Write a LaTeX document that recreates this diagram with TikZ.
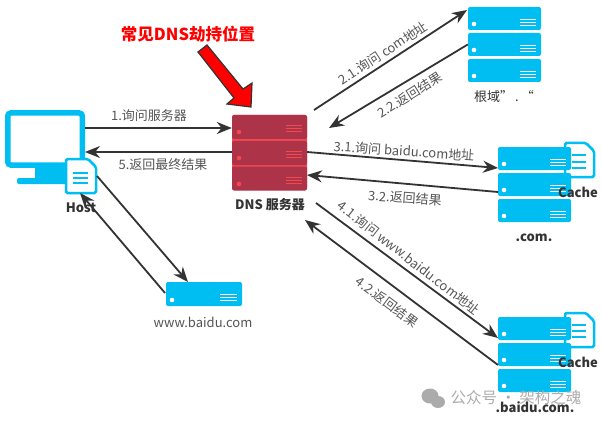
\documentclass[tikz,border=0pt]{standalone}
\usepackage{fontspec}
\usepackage{xcolor}
\usetikzlibrary{arrows.meta}
\setmainfont{Noto Sans CJK SC}
\definecolor{rackblue}{HTML}{00BEF2}
\definecolor{rackred}{HTML}{AD3448}
\definecolor{rackglow}{HTML}{F2484F}
\definecolor{linkgray}{HTML}{333333}
\definecolor{notegray}{HTML}{555555}
\definecolor{markgray}{HTML}{ABABAB}

\begin{document}
\begin{tikzpicture}[x=1pt,y=-1pt,
  flow/.style={draw=linkgray,line width=1.8pt,-{Stealth[length=15pt,width=12pt]}},
  note/.style={text=notegray,inner sep=0pt,font=\fontsize{13}{15}\selectfont},
  tag/.style={text=linkgray,inner sep=0pt,font=\fontsize{13}{15}\selectfont\bfseries},
  rack/.style={fill=rackblue,rounded corners=2pt,inner sep=0pt,minimum width=73pt,minimum height=23pt},
  redrack/.style={fill=rackred,rounded corners=2pt,inner sep=0pt,minimum width=75pt,minimum height=24pt},
  rackline/.style={draw=white,line width=0.9pt},
  sheet/.style={draw=rackblue,fill=white,line width=2.5pt,rounded corners=1.5pt},
  sheetline/.style={draw=rackblue,line width=2.5pt}]
\useasboundingbox (0,0) rectangle (601,422);
\fill[rackblue] (35,166) rectangle (65,179);
\fill[rackblue,rounded corners=2pt] (17,178) rectangle (72,184);
\node[draw=rackblue,line width=5.5pt,fill=white,rounded corners=3pt,inner sep=0pt,minimum width=74.5pt,minimum height=52pt] (monitor) at (45,139) {};
\draw[sheet] (66,159) -- (88,159) -- (96,167) -- (96,193) -- (66,193) -- cycle;
\draw[sheetline] (73,173) -- (88,173);
\draw[sheetline] (73,178) -- (88,178);
\draw[sheetline] (73,183) -- (88,183);
\node[tag] (host) at (81,208) {Host};
\node[fill=rackglow,rounded corners=2pt,inner sep=0pt,minimum width=75pt,minimum height=75pt] (dns) at (269.5,152.5) {};
\node[redrack] (dns1) at (269.5,127) {};
\fill[rackglow] (239,132) circle (2.3);
\draw[draw=rackglow,line width=0.9pt] (286,125) -- (302,125) (286,128) -- (302,128) (286,131) -- (302,131);
\node[redrack] (dns2) at (269.5,153) {};
\fill[rackglow] (239,158) circle (2.3);
\draw[draw=rackglow,line width=0.9pt] (286,151) -- (302,151) (286,154) -- (302,154) (286,157) -- (302,157);
\node[redrack] (dns3) at (269.5,178.5) {};
\fill[rackglow] (239,184) circle (2.3);
\draw[draw=rackglow,line width=0.9pt] (286,177) -- (302,177) (286,180) -- (302,180) (286,183) -- (302,183);
\node[tag] (dnsname) at (270,205) {DNS 服务器};
\node[rack] (root1) at (504.5,18.5) {};
\fill[white] (474,24) circle (2.3);
\draw[rackline] (520,19) -- (536,19) (520,22) -- (536,22) (520,25) -- (536,25);
\node[rack] (root2) at (504.5,44.5) {};
\fill[white] (474,50) circle (2.3);
\draw[rackline] (520,45) -- (536,45) (520,48) -- (536,48) (520,51) -- (536,51);
\node[rack] (root3) at (504.5,70.5) {};
\fill[white] (474,76) circle (2.3);
\draw[rackline] (520,71) -- (536,71) (520,74) -- (536,74) (520,77) -- (536,77);
\node[note,text=linkgray] (rootname) at (504,97) {根域”\,.\,“};
\draw[sheet] (565,143) -- (586,143) -- (594,151) -- (594,177) -- (565,177) -- cycle;
\draw[sheetline] (572,155) -- (586,155);
\draw[sheetline] (572,162) -- (586,162);
\draw[sheetline] (572,168) -- (586,168);
\node[rack] (com1) at (534.5,158.5) {};
\fill[white] (504,164) circle (2.3);
\draw[rackline] (550,159) -- (566,159) (550,162) -- (566,162) (550,165) -- (566,165);
\node[rack] (com2) at (534.5,184.5) {};
\fill[white] (504,190) circle (2.3);
\draw[rackline] (550,185) -- (566,185) (550,188) -- (566,188) (550,191) -- (566,191);
\node[rack] (com3) at (534.5,210.5) {};
\fill[white] (504,216) circle (2.3);
\draw[rackline] (550,211) -- (566,211) (550,214) -- (566,214) (550,217) -- (566,217);
\node[tag] (comcache) at (578,192) {Cache};
\node[tag] (comname) at (534,238) {.com.};
\draw[sheet] (565,313) -- (586,313) -- (594,321) -- (594,347) -- (565,347) -- cycle;
\draw[sheetline] (572,325) -- (586,325);
\draw[sheetline] (572,331) -- (586,331);
\draw[sheetline] (572,337) -- (586,337);
\node[rack] (baidu1) at (534.5,328.5) {};
\fill[white] (504,334) circle (2.3);
\draw[rackline] (550,329) -- (566,329) (550,332) -- (566,332) (550,335) -- (566,335);
\node[rack] (baidu2) at (534.5,354.5) {};
\fill[white] (504,360) circle (2.3);
\draw[rackline] (550,355) -- (566,355) (550,358) -- (566,358) (550,361) -- (566,361);
\node[rack] (baidu3) at (534.5,380.5) {};
\fill[white] (504,386) circle (2.3);
\draw[rackline] (550,381) -- (566,381) (550,384) -- (566,384) (550,387) -- (566,387);
\node[tag] (baiducache) at (578,362) {Cache};
\node[rack,minimum width=76pt,minimum height=24pt] (www) at (204,294) {};
\fill[white] (172,300) circle (2.3);
\draw[rackline] (220,294) -- (237,294) (220,297) -- (237,297) (220,300) -- (237,300);
\node[note] (wwwname) at (203,322) {www.baidu.com};
\coordinate (hostout) at (85,128);
\coordinate (hostin) at (85,152);
\coordinate (dnsup) at (314,110);
\coordinate (dnsupin) at (329,128);
\coordinate (dnscom) at (307,152);
\coordinate (dnscomin) at (307,175);
\coordinate (dnsdown) at (316,203);
\coordinate (dnsdownin) at (305,220);
\coordinate (sheetout) at (97,176);
\coordinate (sheetin) at (80,193);
\coordinate (wwwin) at (188,282);
\coordinate (wwwout) at (165,293);
\coordinate (rootin) at (467,10);
\coordinate (comin) at (498,168);
\coordinate (comout) at (498,192);
\coordinate (baiduin) at (498,338);
\coordinate (baiduout) at (498,365);
\draw[flow] (hostout) -- (hostout -| dns1.west);
\draw[flow] (hostin -| dns2.west) -- (hostin);
\draw[flow] (dnsup) -- (rootin);
\draw[flow] (root2.west) -- (dnsupin);
\draw[flow] (dnscom) -- (comin);
\draw[flow] (comout) -- (dnscomin);
\draw[flow] (dnsdown) -- (baiduin);
\draw[flow] (baiduout) -- (dnsdownin);
\draw[flow] (sheetout) -- (wwwin);
\draw[flow] (wwwout) -- (sheetin);
\node[note] (ask) at (149,116) {1.询问服务器};
\node[note] (back) at (163,165) {5.返回最终结果};
\node[note,rotate=33] (askroot) at (383,53) {2.1.询问 com地址};
\node[note,rotate=32] (backroot) at (410,95) {2.2.返回结果};
\node[note,rotate=-4] (askcom) at (404,151) {3.1.询问 baidu.com地址};
\node[note,rotate=-4] (backcom) at (405,198) {3.2.返回结果};
\node[note,rotate=-38] (askbaidu) at (409,258) {4.1.询问 www.baidu.com地址};
\node[note,rotate=-37] (backbaidu) at (387,302) {4.2.返回结果};
\node[text=red,inner sep=0pt,font=\fontsize{16.5}{19}\selectfont\bfseries] (hijack) at (188,34) {常见DNS劫持位置};
\draw[draw=linkgray,fill=red,line width=1.2pt] (198,52) -- (207,45) -- (243,89) -- (252,83) -- (251,107) -- (227,104) -- (234,98) -- cycle;
\fill[markgray] (430,396) ellipse (8.5 and 7.5);
\fill[markgray] (438,402) ellipse (7 and 6);
\node[text=markgray,inner sep=0pt,font=\fontsize{15.5}{18}\selectfont] (mark) at (516,398) {公众号 · 架构之魂};
\node[tag] (baiduname) at (535,407) {.baidu.com.};
\end{tikzpicture}
\end{document}
